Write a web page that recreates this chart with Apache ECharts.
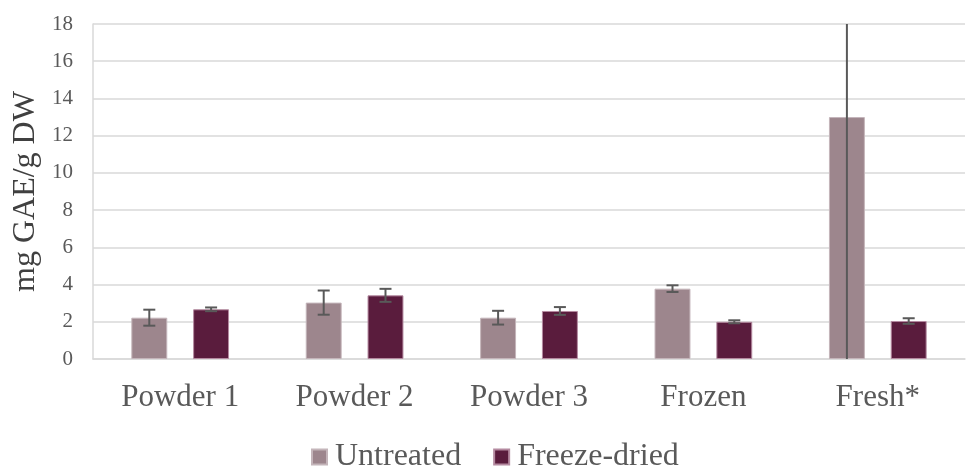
<!DOCTYPE html>
<html><head><meta charset="utf-8">
<script src="https://cdn.jsdelivr.net/npm/echarts@6/dist/echarts.min.js"></script>
<style>html,body{margin:0;padding:0;background:#fff}#c{width:967px;height:469px}</style>
</head><body><div id="c"></div>
<script>
const categories = ['Powder 1', 'Powder 2', 'Powder 3', 'Frozen', 'Fresh*'];
const untreated = [2.22, 3.03, 2.22, 3.78, 13.0];
const untreatedErr = [0.43, 0.65, 0.37, 0.18, 13.5];
const freezeDried = [2.67, 3.42, 2.58, 2.0, 2.04];
const freezeDriedErr = [0.1, 0.35, 0.21, 0.08, 0.15];
const yTicks = [0, 2, 4, 6, 8, 10, 12, 14, 16, 18];

const BAR_W = 0.206, GAP = 0.72;
const C_UN = '#9d868d', C_FD = '#5a1c3d';
const font = '"Liberation Serif", "Times New Roman", serif';

function errSeries(vals, errs, sign) {
  return {
    type: 'custom',
    silent: true,
    z: 10,
    data: vals.map((v, i) => [i, v, errs[i]]),
    renderItem: function (params, api) {
      const i = api.value(0), v = api.value(1), e = api.value(2);
      const ymin = yTicks[0], ymax = yTicks[yTicks.length - 1];
      const hiRaw = v + e, loRaw = v - e;
      const hi = Math.min(hiRaw, ymax), lo = Math.max(loRaw, ymin);
      const band = api.size([1, 0])[0];
      const bw = band * BAR_W;
      const off = sign * bw * (1 + GAP) / 2;
      const pHi = api.coord([i, hi]), pLo = api.coord([i, lo]);
      const x = pHi[0] + off;
      const cap = 6;
      const style = { stroke: '#595959', lineWidth: 2, fill: null };
      const children = [{ type: 'line', shape: { x1: x, y1: pHi[1], x2: x, y2: pLo[1] }, style }];
      if (hiRaw <= ymax) children.push({ type: 'line', shape: { x1: x - cap, y1: pHi[1], x2: x + cap, y2: pHi[1] }, style });
      if (loRaw >= ymin) children.push({ type: 'line', shape: { x1: x - cap, y1: pLo[1], x2: x + cap, y2: pLo[1] }, style });
      return { type: 'group', children };
    }
  };
}

const chart = echarts.init(document.getElementById('c'), null, { renderer: 'canvas' });
chart.setOption({
  animation: false,
  backgroundColor: '#fff',
  grid: { left: 93, right: 2, top: 24, bottom: 110, containLabel: false },
  legend: {
    data: ['Untreated', 'Freeze-dried'],
    top: 436, left: 306,
    icon: 'rect', itemWidth: 15, itemHeight: 15, itemGap: 32,
    textStyle: { fontFamily: font, fontSize: 32, color: '#595959', padding: [0, 0, 0, 3] }
  },
  xAxis: {
    type: 'category',
    data: categories,
    axisLine: { lineStyle: { color: '#d9d9d9', width: 1.5 } },
    axisTick: { show: false },
    axisLabel: { fontFamily: font, fontSize: 31, color: '#595959', margin: 23 }
  },
  yAxis: {
    type: 'value',
    min: yTicks[0], max: yTicks[yTicks.length - 1], interval: 2,
    name: 'mg GAE/g DW',
    nameLocation: 'middle', nameGap: 44, nameRotate: 90,
    nameTextStyle: { fontFamily: font, fontSize: 32, color: '#404040' },
    axisLine: { show: true, lineStyle: { color: '#d9d9d9', width: 1.5 } },
    axisTick: { show: false },
    splitLine: { lineStyle: { color: '#d9d9d9', width: 1.5 } },
    axisLabel: { fontFamily: font, fontSize: 21, color: '#595959', margin: 20 }
  },
  series: [
    { name: 'Untreated', type: 'bar', data: untreated, barWidth: (BAR_W * 100) + '%', barGap: (GAP * 100) + '%',
      itemStyle: { color: C_UN, borderColor: '#c4b5ba', borderWidth: 1 } },
    { name: 'Freeze-dried', type: 'bar', data: freezeDried, barWidth: (BAR_W * 100) + '%',
      itemStyle: { color: C_FD, borderColor: '#b48aa0', borderWidth: 1 } },
    errSeries(untreated, untreatedErr, -1),
    errSeries(freezeDried, freezeDriedErr, 1)
  ]
});
</script></body></html>
